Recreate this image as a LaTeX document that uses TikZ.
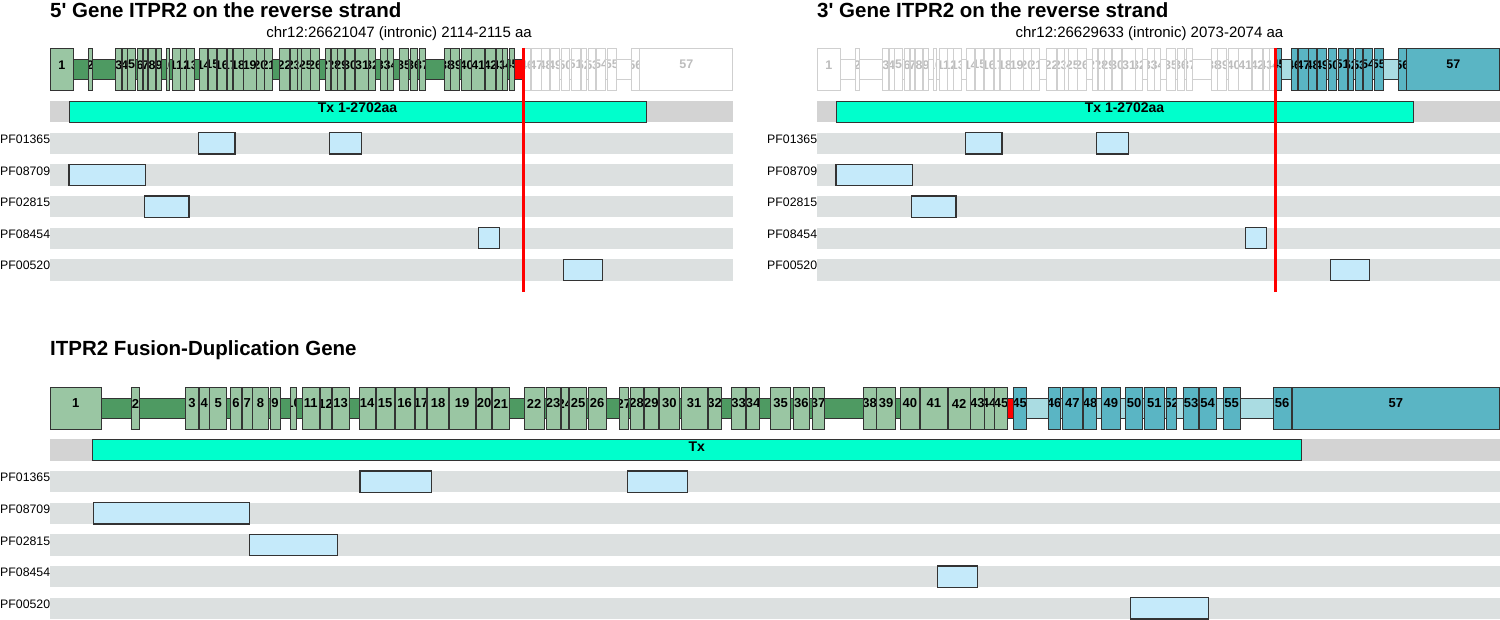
\documentclass[tikz,border=0pt]{standalone}
\usepackage{fontspec}
\setmainfont{Liberation Sans}

\definecolor{exgreen}{HTML}{9AC6A3}
\definecolor{ingreen}{HTML}{4E9A62}
\definecolor{exteal}{HTML}{5AB5C4}
\definecolor{inteal}{HTML}{AADCE2}
\definecolor{fadeline}{HTML}{CFCFCF}
\definecolor{fadetext}{HTML}{BDBDBD}
\definecolor{exline}{HTML}{333333}
\definecolor{txcyan}{HTML}{00FFCC}
\definecolor{txgray}{HTML}{D3D3D3}
\definecolor{rowgray}{HTML}{DCE0E0}
\definecolor{pfblue}{HTML}{C5EAFA}

\tikzset{
  exonbox/.style={line width=0.9pt, inner sep=0pt, outer sep=0pt},
  intron/.style={line width=0.9pt},
  exlabel/.style={inner sep=0pt, font=\fontsize{12.5}{14}\selectfont\bfseries},
  pfbox/.style={draw=exline, fill=pfblue, line width=1.1pt},
  pflabel/.style={anchor=base west, inner sep=0pt, font=\fontsize{12.3}{14}\selectfont},
  txbox/.style={draw=exline, fill=txcyan, line width=0.9pt},
  txlabel/.style={inner sep=0pt, font=\fontsize{14}{16}\selectfont\bfseries},
  breakline/.style={red, line width=3pt},
  paneltitle/.style={anchor=base west, inner sep=0pt, font=\fontsize{20.5}{24}\selectfont\bfseries},
  subtitle/.style={anchor=base east, inner sep=0pt, font=\fontsize{15}{18}\selectfont}
}

\def\toplayout{50/73.5/1, 88.5/92.3/2, 115.7/121.9/3, 122.3/127.0/4, 127.4/135.6/5,
  137.5/142.7/6, 143.2/147.9/7, 148.2/155.8/8, 156.6/161.4/9, 166.6/169.5/10,
  172.2/180.5/11, 180.8/186.1/12, 186.6/194.9/13, 199.9/207.5/14, 208.0/216.8/15,
  217.2/226.4/16, 227.0/232.5/17, 233.0/243.0/18, 243.3/256.1/19, 256.5/264.0/20,
  264.5/272.4/21, 279.7/289.5/22, 290.3/297.1/23, 297.7/301.1/24, 301.6/310.0/25,
  310.7/319.4/26, 325.7/330.4/27, 331.0/337.5/28, 337.9/344.7/29, 345.2/354.9/30,
  355.7/368.5/31, 368.8/375.2/32, 380.3/387.1/33, 387.5/393.8/34, 399.2/408.9/35,
  410.1/417.9/36, 419.2/425.0/37, 444.0/450.2/38, 450.5/459.7/39, 461.8/471.4/40,
  471.7/484.7/41, 485.2/495.7/42, 496.1/502.5/43, 502.7/507.4/44, 509.0/514.4/45,
  524.2/530.0/46, 531.5/541.0/47, 541.8/549.2/48, 550.2/559.8/49, 561.0/569.8/50,
  571.0/580.2/51, 581.0/586.8/52, 588.6/595.8/53, 596.5/605.7/54, 607.6/616.2/55,
  631.2/639.5/56, 639.7/732.8/57}

\def\fuslayout{50/101.7/1, 131.7/139.3/2, 185.7/198.3/3, 199.3/209/4, 209.7/226.7/5,
  230.7/241.3/6, 242.3/252/7, 252.7/268.3/8, 270/280/9, 290.7/296.7/10,
  302.3/319.3/11, 320/331/12, 332/349/13, 359.3/375/14, 376/394.3/15,
  395/414/16, 415.3/426.7/17, 427.7/448.3/18, 449/475.3/19, 476.3/491.7/20,
  492.7/509/21, 524/544.3/22, 546/560/23, 561.3/568.3/24, 569.3/586.7/25,
  588/606/26, 619/628.7/27, 630/643.3/28, 644.3/658.3/29, 659.3/679.3/30,
  681/707.3/31, 708/721.3/32, 731.7/745.7/33, 746.7/759.7/34, 770.7/790.7/35,
  793.3/809.3/36, 812/824/37, 863.3/876/38, 876.7/895.7/39, 900/919.7/40,
  920.3/947.3/41, 948.3/970/42, 970.7/984/43, 984.3/994/44, 994.7/1007.7/45,
  1013.3/1026/45, 1048.3/1060/46, 1062.3/1082.3/47, 1083.3/1096.7/48, 1101.7/1120/49,
  1125.7/1142.7/50, 1144.3/1164.3/51, 1166.7/1176.7/52, 1183.7/1198.3/53, 1199.3/1216/54,
  1223.3/1240/55, 1273.3/1291/56, 1292.3/1499.5/57}

\begin{document}
\begin{tikzpicture}[x=1pt,y=-1pt]
\useasboundingbox (0,0) rectangle (1500,620);

% 5' gene
\node[paneltitle] (t5) at (50,18) {5\textquotesingle{} Gene ITPR2 on the reverse strand};
\node[subtitle] (s5) at (532,38) {chr12:26621047 (intronic) 2114-2115 aa};
\draw[intron, draw=exline, fill=ingreen] (50,59.5) rectangle (514.4,79.5);
\draw[intron, draw=exline, fill=red] (514.4,59.5) rectangle (523.3,79.5);
\draw[intron, draw=fadeline, fill=white] (523.3,59.5) rectangle (732.8,79.5);
\foreach \xa/\xb/\lab [count=\i] in \toplayout {
  \ifnum\i<46 \def\ef{exgreen}\def\ed{exline}\def\et{black}
  \else \def\ef{white}\def\ed{fadeline}\def\et{fadetext}\fi
  \node[exonbox, fill=\ef, draw=\ed, minimum width={(\xb-\xa)*1pt}, minimum height=41.5pt,
    path picture={\node[exlabel, text=\et] (L\i-t) at ([yshift=4.5pt]path picture bounding box.center) {\lab};}]
    (L\i) at ({(\xa+\xb)/2},69.25) {};
}

% 3' gene
\begin{scope}[xshift=767pt]
\node[paneltitle] (t3) at (50,18) {3\textquotesingle{} Gene ITPR2 on the reverse strand};
\node[subtitle] (s3) at (516.5,38) {chr12:26629633 (intronic) 2073-2074 aa};
\draw[intron, draw=fadeline, fill=white] (50,59.5) rectangle (508,79.5);
\draw[intron, draw=exline, fill=inteal] (508,59.5) rectangle (732.8,79.5);
\foreach \xa/\xb/\lab [count=\i] in \toplayout {
  \ifnum\i<45 \def\ef{white}\def\ed{fadeline}\def\et{fadetext}
  \else \def\ef{exteal}\def\ed{exline}\def\et{black}\fi
  \node[exonbox, fill=\ef, draw=\ed, minimum width={(\xb-\xa)*1pt}, minimum height=41.5pt,
    path picture={\node[exlabel, text=\et] (R\i-t) at ([yshift=4.5pt]path picture bounding box.center) {\lab};}]
    (R\i) at ({(\xa+\xb)/2},69.25) {};
}
\end{scope}

% transcript and domain rows of both genes
\foreach \off/\sd in {0/L,767/R} {
\begin{scope}[xshift=\off pt]
\fill[txgray] (50,101) rectangle (733,122.3);
\draw[txbox] (69,101) rectangle (646,122.3);
\node[txlabel] (\sd tx) at (357.5,108) {Tx 1-2702aa};
\foreach \pf [count=\k from 0] in {PF01365,PF08709,PF02815,PF08454,PF00520} {
  \fill[rowgray] (50,{132.7+31.65*\k}) rectangle (733,{154+31.65*\k});
  \node[pflabel] (\sd\pf) at (0,{143.4+31.65*\k}) {\pf};
}
\foreach \xa/\xb/\k in {198.3/235/0, 329.3/361.3/0, 69/145.3/1, 144.3/189/2, 478.7/499.3/3, 563.3/602.3/4}
  \draw[pfbox] (\xa,{132.7+31.65*\k}) rectangle (\xb,{154+31.65*\k});
\end{scope}
}
\draw[breakline] (523.5,48) -- (523.5,292.5);
\draw[breakline] (1275,48) -- (1275,292.5);

% fusion gene
\node[paneltitle] (tf) at (50,355.5) {ITPR2 Fusion-Duplication Gene};
\draw[intron, draw=exline, fill=ingreen] (50,398) rectangle (1007.7,418);
\draw[intron, draw=exline, fill=red] (1007.7,398) rectangle (1013.3,418);
\draw[intron, draw=exline, fill=inteal] (1013.3,398) rectangle (1499.5,418);
\foreach \xa/\xb/\lab [count=\i] in \fuslayout {
  \ifnum\i<46 \def\ef{exgreen}\else\def\ef{exteal}\fi
  \node[exonbox, fill=\ef, draw=exline, minimum width={(\xb-\xa)*1pt}, minimum height=42pt,
    path picture={\node[exlabel, font=\fontsize{13}{15}\selectfont\bfseries] (F\i-t) at ([yshift=4.5pt]path picture bounding box.center) {\lab};}]
    (F\i) at ({(\xa+\xb)/2},408) {};
}
\fill[txgray] (50,439.3) rectangle (1500,460.7);
\draw[txbox] (92,439.3) rectangle (1301.6,460.7);
\node[txlabel] (ftx) at (696.8,447) {Tx};
\foreach \pf [count=\k from 0] in {PF01365,PF08709,PF02815,PF08454,PF00520} {
  \fill[rowgray] (50,{471+31.67*\k}) rectangle (1500,{492.3+31.67*\k});
  \node[pflabel] (F\pf) at (0,{481.7+31.67*\k}) {\pf};
}
\foreach \xa/\xb/\k in {360/431.7/0, 627.5/687.2/0, 93.3/249.3/1, 249.3/337.7/2, 937.9/977.4/3, 1130.3/1208.8/4}
  \draw[pfbox] (\xa,{471+31.67*\k}) rectangle (\xb,{492.3+31.67*\k});
\end{tikzpicture}
\end{document}
